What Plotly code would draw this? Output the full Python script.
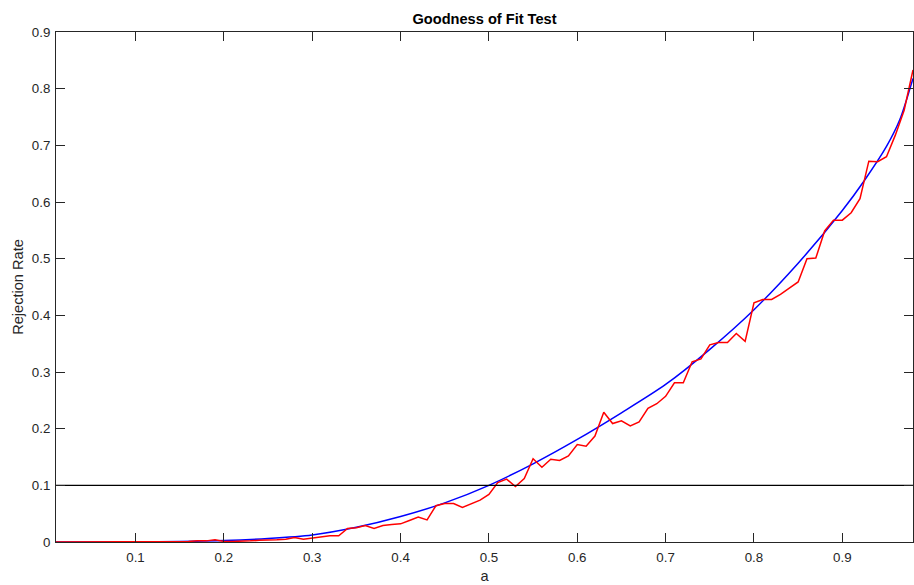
import plotly.graph_objects as go

# Simulated rejection rate (red), a = 0.01 ... 0.98
a_sim = [round(0.01 * i, 2) for i in range(1, 99)]
rejection = [
    0, 0, 0, 0, 0, 0, 0, 0, 0, 0,
    0, 0, 0.001, 0.001, 0.001, 0.001, 0.002, 0.002, 0.004, 0.001,
    0.001, 0.001, 0.002, 0.003, 0.003, 0.004, 0.005, 0.008, 0.005, 0.007,
    0.010, 0.011, 0.011, 0.024, 0.025, 0.029, 0.024, 0.029, 0.031, 0.032,
    0.038, 0.044, 0.039, 0.064, 0.068, 0.068, 0.061, 0.067, 0.074, 0.084,
    0.105, 0.111, 0.098, 0.112, 0.147, 0.132, 0.146, 0.144, 0.152, 0.172,
    0.169, 0.187, 0.229, 0.209, 0.214, 0.205, 0.212, 0.236, 0.244, 0.257,
    0.281, 0.281, 0.318, 0.323, 0.348, 0.352, 0.352, 0.368, 0.354, 0.422,
    0.428, 0.428, 0.437, 0.448, 0.459, 0.500, 0.501, 0.549, 0.568, 0.568,
    0.581, 0.606, 0.672, 0.671, 0.680, 0.718, 0.762, 0.833,
]

# Theoretical curve (blue)
a_fit = [0.01, 0.05, 0.10, 0.15, 0.20, 0.25, 0.30, 0.35, 0.40, 0.45, 0.50,
         0.55, 0.60, 0.65, 0.70, 0.75, 0.80, 0.85, 0.90, 0.925, 0.95, 0.965, 0.98]
fit = [0, 0.00002, 0.0002, 0.0009, 0.0025, 0.0062, 0.0125, 0.026, 0.045, 0.069, 0.100,
       0.138, 0.181, 0.228, 0.278, 0.340, 0.410, 0.492, 0.585, 0.638, 0.698, 0.745, 0.818]

level = 0.1
x_ticks = [0.1, 0.2, 0.3, 0.4, 0.5, 0.6, 0.7, 0.8, 0.9]
y_ticks = [0, 0.1, 0.2, 0.3, 0.4, 0.5, 0.6, 0.7, 0.8, 0.9]
y_ticklabels = ["0", "0.1", "0.2", "0.3", "0.4", "0.5", "0.6", "0.7", "0.8", "0.9"]

fig = go.Figure()
fig.add_trace(go.Scatter(x=a_fit, y=fit, mode="lines",
                         line=dict(color="#0000ff", width=1.5, shape="spline", smoothing=0.8)))
fig.add_trace(go.Scatter(x=a_sim, y=rejection, mode="lines",
                         line=dict(color="#ff0000", width=1.5)))
fig.add_trace(go.Scatter(x=[0.01, 0.98], y=[level, level], mode="lines",
                         line=dict(color="black", width=1.2), hoverinfo="skip"))

FAM = "Liberation Sans, Arial, sans-serif"
tick_font = dict(family=FAM, size=13.3, color="#262626")
label_font = dict(family=FAM, size=14.6, color="#262626")

W, H = 914, 585
fig.update_layout(
    width=W, height=H,
    margin=dict(l=56, r=1, t=32, b=43),
    paper_bgcolor="white", plot_bgcolor="white",
    showlegend=False,
    title=dict(text="<b>Goodness of Fit Test</b>", x=0.5, xref="paper", xanchor="center",
               y=1 - 19 / H, yref="container", yanchor="middle",
               font=dict(family=FAM, size=14.6, color="black")),
    xaxis=dict(range=[0.01, 0.98], tickvals=x_ticks, ticktext=[str(v) for v in x_ticks],
               ticks="inside", ticklen=9, tickcolor="#262626", tickwidth=1,
               showline=True, linecolor="#262626", linewidth=1, mirror="ticks",
               showgrid=False, zeroline=False, tickfont=tick_font, automargin=False,
               ticklabelstandoff=3,
               title=dict(text="a", font=label_font, standoff=6)),
    yaxis=dict(range=[0, 0.9], tickvals=y_ticks, ticktext=y_ticklabels,
               ticks="inside", ticklen=9, tickcolor="#262626", tickwidth=1,
               showline=True, linecolor="#262626", linewidth=1, mirror="ticks",
               showgrid=False, zeroline=False, tickfont=tick_font, automargin=False,
               ticklabelstandoff=2,
               title=dict(text="Rejection Rate", font=label_font, standoff=4)),
)

fig.write_html(
    "out.html",
    config={"displayModeBar": False},
    post_script="document.body.style.margin='0';document.body.style.overflow='hidden';",
)
